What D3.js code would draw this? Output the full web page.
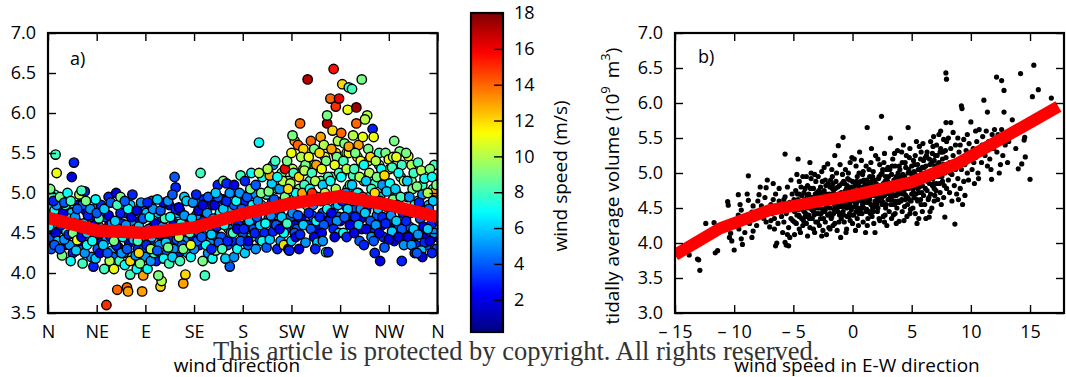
<!DOCTYPE html>
<html>
<head>
<meta charset="utf-8">
<script src="https://cdn.jsdelivr.net/npm/d3@7"></script>
<style>
    body { margin: 0; background: #fff; }
    svg { display: block; font-family: 'Open Sans', sans-serif; }
    .lbl { font-size: 18px; fill: #000; }
    .title { font-size: 19px; fill: #000; }
</style>
</head>
<body>
<div id="chart"></div>
<script>
'use strict';

// Ticks and labels
const directionTicks = [0, 45, 90, 135, 180, 225, 270, 315, 360];
const directionLabels = ['N', 'NE', 'E', 'SE', 'S', 'SW', 'W', 'NW', 'N'];
const volumeTicksA = [3.5, 4.0, 4.5, 5.0, 5.5, 6.0, 6.5, 7.0];
const volumeTicksB = [3.0, 3.5, 4.0, 4.5, 5.0, 5.5, 6.0, 6.5, 7.0];
const speedEWTicks = [-15, -10, -5, 0, 5, 10, 15];
const colorbarTicks = [2, 4, 6, 8, 10, 12, 14, 16, 18];

// Red trend lines
const trendDirection = [0, 45, 90, 135, 180, 225, 270, 315, 360];
const trendVolumeA = [4.69, 4.53, 4.5, 4.57, 4.74, 4.87, 4.96, 4.85, 4.7];
const trendSpeedEW = [-15, -11.2, -7, 0, 5, 8.8, 12.7, 17.4];
const trendVolumeB = [3.83, 4.21, 4.47, 4.68, 4.87, 5.13, 5.5, 5.95];

// a) core of the band [direction (deg), volume, wind speed]
const directionPointsCore = [
    [4,4.42,5],[9,4.6,3],[1,4.8,6],[6,4.98,7],[3,4.3,4],[8,4.68,2],
    [10,4.4,5],[14,4.55,3],[18,4.78,6],[12,4.92,4],[16,4.35,2],[19,4.6,7],
    [20,4.35,5],[25,4.52,3],[22,4.75,6],[28,4.85,2],[26,4.65,4],[23,4.25,3],
    [30,4.3,4],[33,4.4,3],[37,4.6,5],[35,4.78,2],[39,4.42,6],[32,4.85,4],
    [40,4.2,5],[45,4.45,3],[47,4.58,6],[41,4.72,3],[49,4.38,2],[46,4.82,5],
    [50,4.3,3],[54,4.42,5],[57,4.62,2],[53,4.7,4],[59,4.28,6],[56,4.95,3],
    [60,4.2,4],[65,4.32,2],[62,4.52,5],[68,4.62,3],[66,4.85,4],[69,4.25,6],
    [70,4.25,5],[75,4.38,2],[77,4.55,4],[72,4.75,3],[79,4.62,5],[76,4.85,6],
    [80,4.15,4],[83,4.3,3],[87,4.45,5],[85,4.65,2],[81,4.55,6],[89,4.8,4],
    [90,4.2,5],[94,4.4,3],[97,4.58,4],[91,4.75,6],[99,4.5,2],[96,4.9,4],
    [100,4.15,3],[103,4.35,5],[108,4.45,2],[105,4.65,4],[102,4.75,6],[109,4.55,3],
    [110,4.25,4],[114,4.4,3],[117,4.62,5],[112,4.85,2],[119,4.75,6],[116,4.3,5],
    [120,4.2,3],[124,4.5,2],[127,4.4,5],[122,4.78,4],[129,4.65,3],[126,4.95,6],
    [130,4.3,4],[134,4.45,2],[137,4.72,5],[131,4.62,3],[139,4.9,6],[135,4.55,4],
    [140,4.35,3],[145,4.5,5],[147,4.62,2],[142,4.78,6],[149,4.4,4],[144,4.92,3],
    [150,4.4,5],[154,4.55,2],[157,4.7,4],[152,4.85,3],[159,4.62,6],[156,4.45,3],
    [160,4.45,4],[164,4.68,3],[167,4.55,5],[162,4.92,2],[169,4.78,6],[166,4.35,4],
    [170,4.4,3],[174,4.62,5],[177,4.75,2],[172,4.85,4],[179,4.55,6],[176,4.95,3],
    [180,4.5,4],[184,4.62,2],[187,4.78,5],[182,4.9,3],[189,4.55,6],[186,5.0,5],
    [190,4.55,4],[194,4.65,3],[197,4.85,6],[192,4.98,5],[199,4.6,2],[196,4.42,4],
    [200,4.5,3],[204,4.68,5],[207,4.88,4],[202,4.98,7],[209,4.62,2],[206,5.05,8],
    [210,4.55,4],[214,4.75,3],[217,4.9,6],[212,5.05,8],[219,4.65,2],[216,5.25,9],
    [220,4.55,3],[224,4.7,4],[227,4.92,7],[222,5.15,9],[229,4.6,2],[226,5.3,10],
    [230,4.55,4],[234,4.68,2],[237,4.9,6],[232,5.05,9],[239,4.6,3],[236,5.3,11],
    [240,4.6,3],[244,4.72,4],[247,4.92,6],[242,5.15,8],[249,4.55,2],[246,5.35,10],
    [250,4.6,2],[254,4.75,4],[257,4.95,7],[252,5.15,9],[259,4.65,3],[256,5.45,11],
    [260,4.65,3],[264,4.8,5],[267,5.0,7],[262,5.2,9],[269,4.7,4],[266,5.5,12],
    [270,4.65,2],[274,4.85,4],[277,5.05,7],[272,5.25,9],[279,4.72,3],[276,5.5,10],
    [280,4.6,3],[284,4.82,4],[287,5.0,6],[282,5.22,8],[289,4.68,2],[286,5.45,11],
    [290,4.55,2],[294,4.78,5],[297,4.95,7],[292,5.15,9],[299,4.62,3],[296,5.4,10],
    [300,4.5,3],[304,4.72,4],[307,4.95,6],[302,5.12,8],[309,4.6,2],[306,5.35,9],
    [310,4.45,3],[314,4.65,5],[317,4.88,7],[312,5.05,8],[319,4.55,2],[316,5.3,10],
    [320,4.4,2],[324,4.6,4],[327,4.82,6],[322,5.0,8],[329,4.5,3],[326,5.2,9],
    [330,4.4,3],[334,4.58,4],[337,4.78,6],[332,4.95,7],[339,4.48,2],[336,5.15,9],
    [340,4.35,3],[344,4.52,5],[347,4.72,4],[342,4.9,7],[349,4.45,2],[346,5.1,8],
    [350,4.35,4],[354,4.5,3],[357,4.65,5],[352,4.85,6],[360,4.45,2],[356,5.05,8]
];

// a) spread and outliers [direction (deg), volume, wind speed]
const directionPoints = [
    [1,4.45,4],[3,4.55,3],[5,4.62,5],[2,4.7,6],[6,4.78,7],[8,4.85,5],[4,4.95,8],[2,5.05,9],[7,4.5,2],[9,4.4,6],[7,5.48,8],[8,5.25,11],[5,4.9,3],[3,4.65,8],[6,4.35,4],[1,4.58,7],
    [13,4.22,9],[11,4.3,4],[15,4.42,5],[17,4.52,7],[12,4.6,3],[19,4.68,6],[14,4.75,2],[16,4.85,8],[11,4.95,9],[18,5.0,7],[19,4.48,3],[13,4.65,5],[15,4.88,4],
    [22,5.2,2],[24,5.38,3],[21,4.15,7],[26,4.28,6],[28,4.4,4],[23,4.5,9],[29,4.58,3],[25,4.7,5],[27,4.8,4],[21,4.9,8],[29,4.98,10],[27,4.41,11],[24,4.62,6],
    [32,4.12,8],[34,4.25,5],[36,4.35,7],[31,4.45,2],[38,4.55,4],[33,4.62,6],[37,4.72,3],[39,4.8,5],[35,4.9,9],[34,5.02,3],[31,5.03,8],[36,4.5,6],
    [42,4.08,3],[44,4.18,6],[46,4.3,4],[41,4.4,7],[48,4.5,5],[43,4.6,2],[47,4.68,8],[45,4.75,4],[49,4.85,3],[44,4.92,7],[48,4.25,2],[42,4.55,5],
    [54,3.6,15],[52,4.05,8],[57,4.15,10],[55,4.25,4],[51,4.35,6],[58,4.45,3],[53,4.55,7],[59,4.62,5],[56,4.72,2],[52,4.8,6],[58,4.88,4],[55,4.52,9],
    [64,3.79,14],[61,4.05,11],[66,4.15,8],[68,4.25,5],[63,4.35,3],[69,4.45,7],[65,4.55,4],[62,4.65,6],[67,4.75,3],[64,4.85,8],[63,5.0,2],[67,4.95,9],[61,4.4,9],
    [73,3.82,14],[74,3.77,13],[76,3.98,8],[71,4.1,7],[78,4.2,9],[73,4.3,4],[79,4.42,6],[75,4.5,3],[72,4.6,5],[77,4.7,2],[74,4.8,7],[71,4.9,4],[78,4.98,3],[76,4.15,12],
    [87,3.77,13],[88,3.97,13],[82,4.05,7],[85,4.12,9],[81,4.22,5],[89,4.32,4],[83,4.4,8],[86,4.5,3],[84,4.58,6],[88,4.68,4],[82,4.78,2],[86,4.88,5],[84,4.25,12],
    [92,4.05,7],[95,4.15,5],[98,4.25,8],[91,4.35,3],[96,4.45,6],[93,4.55,4],[99,4.62,2],[94,4.7,7],[97,4.8,5],[92,4.88,3],[95,4.3,10],
    [104,3.83,12],[105,3.9,10],[102,3.97,9],[107,4.18,7],[101,4.28,4],[109,4.38,6],[103,4.48,3],[106,4.58,5],[108,4.68,8],[104,4.78,4],[107,4.88,2],[101,4.92,6],
    [117,5.2,4],[118,5.07,3],[112,4.12,8],[115,4.2,6],[111,4.32,9],[119,4.42,4],[114,4.52,5],[116,4.6,2],[113,4.7,7],[118,4.8,3],[111,4.9,5],[115,4.98,4],
    [125,3.87,13],[127,3.98,12],[122,4.15,8],[129,4.25,6],[124,4.35,4],[121,4.45,10],[128,4.55,3],[123,4.62,7],[126,4.72,5],[121,4.82,2],[128,4.9,6],[125,4.3,9],
    [132,4.2,7],[135,4.3,5],[138,4.4,4],[131,4.5,8],[136,4.6,3],[133,4.68,6],[139,4.78,2],[134,4.88,5],[137,4.98,3],[132,4.35,11],[139,4.52,4],
    [141,5.25,8],[145,3.97,8],[143,4.15,9],[148,4.25,5],[146,4.35,7],[142,4.45,4],[149,4.55,6],[144,4.65,3],[147,4.75,5],[143,4.85,2],[148,4.95,4],[141,4.6,6],
    [152,4.18,7],[155,4.28,9],[158,4.38,4],[151,4.48,6],[156,4.58,3],[153,4.68,5],[159,4.76,7],[154,4.85,2],[157,4.95,4],[157,5.1,3],[151,4.3,3],[155,5.0,6],
    [168,4.08,4],[164,4.18,6],[161,4.3,8],[166,4.4,3],[169,4.5,5],[163,4.6,7],[167,4.7,4],[162,4.8,6],[165,4.9,3],[168,5.0,5],[162,5.15,9],[165,5.12,3],
    [172,4.2,5],[175,4.3,7],[178,4.4,4],[171,4.5,8],[176,4.6,3],[173,4.7,6],[179,4.8,4],[174,4.9,7],[177,5.0,5],[172,5.1,2],[178,5.22,8],[175,4.55,2],
    [182,4.25,6],[185,4.35,4],[188,4.45,8],[181,4.55,3],[186,4.65,6],[183,4.75,5],[189,4.85,7],[184,4.95,4],[187,5.05,9],[182,5.15,3],[188,5.25,7],[185,4.4,2],
    [195,5.63,7],[192,4.3,5],[198,4.4,7],[191,4.5,3],[196,4.6,6],[193,4.7,4],[199,4.8,8],[194,4.9,5],[197,5.0,9],[192,5.1,4],[198,5.2,7],[195,5.25,10],
    [202,4.32,4],[205,4.42,6],[208,4.52,3],[201,4.62,7],[206,4.72,5],[203,4.82,8],[209,4.92,4],[204,5.02,9],[207,5.12,6],[205,5.22,13],[208,5.35,5],[210,5.4,8],[203,5.3,10],
    [212,4.3,3],[215,4.4,5],[218,4.5,7],[211,4.6,4],[216,4.7,6],[213,4.82,8],[219,4.95,9],[214,5.05,5],[217,5.15,10],[219,5.3,16],[212,5.2,7],[218,4.35,12],[214,4.55,2],
    [222,4.3,2],[225,4.4,6],[228,4.5,4],[221,4.62,8],[226,4.75,5],[223,4.88,9],[229,5.0,7],[224,5.12,10],[227,5.25,8],[221,5.4,9],[225,5.5,11],[228,5.65,13],[226,5.72,9],[223,4.28,3],[229,4.45,2],[222,5.05,12],
    [233,5.87,14],[231,5.6,14],[236,5.55,12],[234,5.45,10],[238,5.35,9],[232,5.2,12],[237,5.1,8],[235,4.95,6],[239,4.85,9],[231,4.72,4],[236,4.6,6],[233,4.48,3],[238,4.38,5],[235,5.0,13],[232,4.3,2],[237,5.28,10],
    [240,6.42,17],[243,5.65,14],[246,5.55,9],[241,5.45,11],[248,5.35,13],[244,5.25,8],[247,5.15,10],[242,5.05,7],[249,4.95,12],[245,4.85,5],[241,4.75,3],[248,4.65,7],[243,4.55,4],[246,4.45,2],[249,4.38,6],[244,5.0,15],[247,4.3,3],
    [258,5.87,17],[252,5.7,13],[255,5.6,10],[251,5.5,12],[257,5.4,9],[253,5.3,11],[259,5.2,8],[254,5.1,6],[256,5.0,10],[252,4.9,5],[258,4.8,7],[251,4.7,3],[255,4.6,4],[253,4.5,2],[257,4.26,8],[259,4.26,3],[258,5.97,9],[254,4.4,5],
    [264,6.55,15.5],[261,6.18,14],[266,6.08,15],[263,5.78,12],[268,5.65,10],[262,5.55,13],[267,5.45,9],[265,5.35,11],[269,5.25,8],[261,5.15,7],[266,5.05,10],[263,4.95,4],[268,4.85,6],[262,4.75,2],[267,4.65,5],[264,4.55,3],[269,4.5,6],[265,4.45,2],
    [269,6.18,16],[272,6.36,12],[277,6.04,11],[271,5.75,14],[274,5.62,9],[278,5.5,11],[273,5.4,8],[276,5.3,10],[271,5.2,7],[279,5.1,9],[275,5.0,5],[272,4.9,3],[277,4.8,6],[274,4.7,4],[279,4.6,2],[273,4.5,7],[276,4.45,3],[278,5.58,13],
    [278,6.32,8],[281,6.3,8],[285,6.07,17.5],[285,5.87,14],[282,5.72,10],[287,5.6,13],[284,5.5,9],[289,5.4,11],[283,5.3,8],[288,5.2,10],[281,5.1,6],[286,5.0,7],[282,4.9,4],[289,4.8,5],[284,4.7,3],[287,4.6,6],[283,4.5,2],[288,4.4,4],
    [290,6.42,9],[295,5.97,10],[293,5.92,10],[291,5.7,11],[296,5.55,9],[298,5.45,12],[292,5.35,7],[297,5.25,10],[294,5.15,6],[299,5.05,8],[291,4.95,5],[296,4.85,3],[293,4.75,6],[298,4.65,4],[294,4.55,2],[299,4.45,5],[292,4.35,3],
    [300,5.8,3],[301,5.7,11],[306,5.5,8],[303,5.4,10],[308,5.3,7],[304,5.2,9],[309,5.1,5],[302,5.0,12],[307,4.9,4],[305,4.8,6],[309,4.7,3],[303,4.6,5],[306,4.5,2],[301,4.4,4],[302,4.25,3],[307,4.15,2],
    [312,5.5,9],[315,5.42,11],[318,5.32,8],[311,5.22,12],[316,5.12,7],[313,5.02,6],[319,4.92,9],[314,4.82,4],[317,4.72,5],[312,4.62,3],[318,4.52,6],[315,4.42,2],[311,4.32,4],[319,5.45,10],
    [320,5.65,9],[325,5.52,9],[322,5.45,11],[327,5.35,8],[324,5.25,7],[329,5.15,10],[321,5.05,6],[326,4.95,8],[323,4.85,5],[328,4.75,3],[322,4.65,6],[327,4.55,4],[324,4.45,2],[329,4.35,5],[327,4.15,3],
    [333,5.46,11],[331,5.5,9],[336,5.35,10],[338,5.25,8],[332,5.15,6],[337,5.05,9],[334,4.95,5],[339,4.85,7],[335,4.75,4],[331,4.65,3],[338,4.55,6],[333,4.45,2],[336,4.35,5],[339,4.25,3],
    [342,5.38,8],[345,5.28,10],[348,5.18,7],[341,5.08,9],[346,4.98,5],[343,4.88,3],[349,4.78,6],[344,4.68,4],[347,4.58,2],[342,4.48,5],[348,4.38,3],[345,4.28,6],[346,4.2,2],[341,4.25,4],
    [357,5.35,8],[353,5.3,9],[355,5.2,7],[358,5.02,13],[351,5.0,10],[356,4.9,6],[352,4.8,4],[359,4.7,7],[354,4.6,3],[357,4.5,5],[353,4.4,2],[359,4.3,4],[355,4.25,3],[351,4.55,6],[359,5.1,9]
];

// b) core of the cloud [E-W wind speed, volume]
const ewPointsCore = [
    [-5.05,4.32],[-4.95,4.62],[-4.85,4.5],[-4.75,4.28],[-4.65,4.7],[-4.55,4.4],[-4.45,4.58],[-4.35,4.8],[-4.25,4.48],[-4.15,4.32],[-4.05,4.62],[-3.95,4.42],[-3.85,4.68],[-3.75,4.55],[-3.65,4.35],[-3.55,4.78],[-3.45,4.48],[-3.35,4.6],[-3.25,4.4],[-3.15,4.7],[-3.05,4.55],[-2.95,4.3],[-2.85,4.75],[-2.75,4.5],[-2.65,4.42],[-2.55,4.68],[-2.45,4.35],[-2.35,4.62],[-2.25,4.82],[-2.15,4.55],[-2.05,4.4],
    [-1.95,4.7],[-1.85,4.6],[-1.75,4.38],[-1.65,4.85],[-1.55,4.48],[-1.45,4.68],[-1.35,4.55],[-1.25,4.8],[-1.15,4.62],[-1.05,4.42],[-0.95,4.72],[-0.85,4.52],[-0.75,4.4],[-0.65,4.85],[-0.55,4.62],[-0.45,4.38],[-0.35,4.7],[-0.25,4.9],[-0.15,4.52],[-0.05,4.62],
    [0.05,4.4],[0.15,4.75],[0.25,4.58],[0.35,4.88],[0.45,4.65],[0.55,4.42],[0.65,4.8],[0.75,4.6],[0.85,4.98],[0.95,4.5],[1.05,4.7],[1.15,4.45],[1.25,4.85],[1.35,4.62],[1.45,4.95],[1.55,4.55],[1.65,4.78],[1.75,4.45],[1.85,4.9],[1.95,4.68],
    [2.05,4.82],[2.15,4.5],[2.25,4.95],[2.35,4.72],[2.45,4.6],[2.55,5.05],[2.65,4.7],[2.75,4.88],[2.85,4.55],[2.95,4.8],[3.05,4.95],[3.15,4.62],[3.25,4.82],[3.35,5.1],[3.45,4.68],[3.55,4.55],[3.65,4.92],[3.75,4.75],[3.85,4.6],[3.95,5.1],
    [4.05,4.8],[4.15,4.62],[4.25,4.98],[4.35,4.72],[4.45,5.15],[4.55,4.85],[4.65,4.65],[4.75,5.05],[4.85,4.9],[4.95,4.6],[5.05,4.95],[5.15,4.72],[5.25,5.12],[5.35,4.85],[5.45,4.62],[5.55,5.05],[5.65,4.8],[5.75,5.2],[5.85,4.72],[5.95,4.95],
    [6.05,5.08],[6.15,4.78],[6.25,5.25],[6.35,4.88],[6.45,4.65],[6.55,5.12],[6.65,4.95],[6.75,5.28],[6.85,4.85],[6.95,5.1],[7.05,4.75],[7.15,5.25],[7.25,5.02],[7.35,4.85],[7.45,5.35],[7.55,4.95],[7.65,5.3],[7.75,4.82],[7.85,5.12],[7.95,5.45],
    [-4.9,4.45],[-4.7,4.6],[-4.5,4.38],[-4.3,4.52],[-4.1,4.72],[-3.9,4.38],[-3.7,4.55],[-3.5,4.65],[-3.3,4.52],[-3.1,4.42],[-2.9,4.58],[-2.7,4.72],[-2.5,4.62],[-2.3,4.48],[-2.1,4.6],[-1.9,4.42],[-1.7,4.78],[-1.5,4.62],[-1.3,4.68],[-1.1,4.52],[-0.9,4.65],[-0.7,4.55],[-0.5,4.78],[-0.3,4.55],[-0.1,4.8],
    [0.1,4.68],[0.3,4.55],[0.5,4.82],[0.7,4.72],[0.9,4.62],[1.1,4.78],[1.3,4.58],[1.5,4.7],[1.7,4.82],[1.9,4.52],[2.1,4.62],[2.3,4.75],[2.5,4.65],[2.7,4.55],[2.9,4.9],[3.1,4.7],[3.3,4.75],[3.5,4.82],[3.7,4.95],[3.9,4.7],
    [4.1,4.75],[4.3,4.92],[4.5,4.78],[4.7,4.88],[4.9,5.0],[5.1,4.88],[5.3,4.98],[5.5,4.78],[5.7,4.88],[5.9,5.08],[6.1,5.0],[6.3,4.9],[6.5,5.2],[6.7,5.0],[6.9,5.18],[7.1,4.95],[7.3,5.15],[7.5,5.3],[7.7,5.05],[7.9,5.22]
];

// b) spread and outliers [E-W wind speed, volume]
const ewPoints = [
    [-13.8,3.83],[-13.1,3.77],[-13.0,3.76],[-12.9,3.61],[-12.4,4.28],[-11.7,4.29],[-11.6,3.86],[-11.4,3.89],[-11.1,4.18],[-10.55,4.59],[-10.5,4.54],[-10.4,4.08],[-10.3,4.14],[-10.2,4.03],[-10.0,3.9],
    [-9.65,4.69],[-9.5,4.55],[-9.4,4.47],[-9.65,4.4],[-9.2,4.33],[-9.6,4.2],[-9.4,4.06],[-8.8,4.61],[-8.9,4.7],[-8.8,4.96],[-8.4,4.53],[-8.5,4.44],[-8.3,4.34],[-8.7,4.28],[-8.4,4.17],[-9.1,4.15],
    [-8.5,4.08],[-7.9,4.69],[-8.0,4.6],[-7.7,4.53],[-7.85,4.39],[-7.4,4.65],[-7.3,4.79],[-7.2,4.9],[-7.5,4.35],[-7.3,4.3],[-7.0,4.23],[-9.3,3.98],[-7.6,4.45],[-8.1,4.25],[-7.1,4.5],[-7.8,4.8],
    [-6.9,4.55],[-6.8,4.42],[-6.7,4.62],[-6.6,4.35],[-6.5,4.7],[-6.4,4.5],[-6.3,4.28],[-6.2,4.78],[-6.1,4.45],[-6.9,4.32],[-6.6,4.2],[-6.2,4.6],[-6.5,3.96],[-6.4,4.0],[-6.0,4.38],[-6.7,4.85],
    [-5.9,4.52],[-5.8,4.3],[-5.7,4.66],[-5.7,4.01],[-5.6,3.97],[-5.6,4.42],[-5.5,4.8],[-5.4,4.22],[-5.3,4.58],[-5.2,4.35],[-5.1,4.7],[-5.9,4.15],[-5.5,4.12],[-5.2,4.9],[-5.7,5.27],[-5.4,3.96],[-5.3,4.08],[-5.8,4.62],[-5.0,4.47],
    [-4.9,4.3],[-4.8,4.55],[-4.8,4.75],[-4.7,4.4],[-4.6,5.2],[-4.6,4.62],[-4.5,4.2],[-4.5,4.88],[-4.4,4.5],[-4.3,4.35],[-4.3,4.68],[-4.2,4.25],[-4.2,4.95],[-4.1,4.45],[-4.1,4.58],[-4.0,4.78],[-4.9,4.12],[-4.7,4.98],[-4.4,4.15],[-4.6,4.48],[-4.0,4.38],[-4.5,4.7],
    [-3.9,4.6],[-3.9,4.28],[-3.8,4.5],[-3.8,4.82],[-3.7,4.4],[-3.7,4.7],[-3.6,5.15],[-3.6,4.22],[-3.5,4.55],[-3.5,4.92],[-3.4,4.35],[-3.4,4.65],[-3.3,4.45],[-3.3,4.78],[-3.2,4.15],[-3.2,4.58],[-3.1,4.3],[-3.1,4.88],[-3.0,4.5],[-3.0,4.72],[-3.8,4.1],[-3.5,5.0],[-3.2,4.98],[-3.9,4.95],[-3.3,4.2],
    [-2.9,4.42],[-2.9,4.68],[-2.8,4.55],[-2.8,4.25],[-2.7,4.8],[-2.7,4.35],[-2.6,4.62],[-2.6,5.02],[-2.5,4.48],[-2.5,4.18],[-2.4,4.75],[-2.4,4.58],[-2.3,4.3],[-2.3,4.9],[-2.2,4.52],[-2.2,4.7],[-2.1,4.4],[-2.1,5.13],[-2.0,4.62],[-2.0,4.22],[-2.9,4.95],[-2.6,4.1],[-2.4,5.08],[-2.2,4.12],[-2.05,4.85],[-2.75,4.65],[-2.35,4.45],[-2.55,4.88],
    [-1.9,4.5],[-1.9,4.8],[-1.8,4.35],[-1.8,4.65],[-1.7,4.58],[-1.7,4.95],[-1.6,4.42],[-1.6,4.72],[-1.5,5.25],[-1.5,4.28],[-1.4,4.6],[-1.4,4.88],[-1.3,4.5],[-1.3,4.18],[-1.2,5.39],[-1.2,4.7],[-1.1,4.4],[-1.1,4.82],[-1.0,4.08],[-1.0,4.62],[-1.9,4.2],[-1.75,5.05],[-1.55,4.55],[-1.35,5.0],[-1.15,4.3],[-1.05,5.12],[-1.85,4.9],[-1.45,4.78],[-1.25,4.45],[-1.65,4.25],
    [-0.9,4.55],[-0.9,4.85],[-0.8,5.51],[-0.8,4.45],[-0.7,4.68],[-0.7,4.3],[-0.6,4.75],[-0.6,5.05],[-0.5,4.5],[-0.5,4.2],[-0.4,4.62],[-0.4,4.92],[-0.3,4.38],[-0.3,4.78],[-0.2,4.58],[-0.2,5.15],[-0.1,4.48],[-0.1,4.7],[0.0,4.28],[0.0,4.88],[-0.95,4.35],[-0.85,4.98],[-0.65,4.58],[-0.55,4.15],[-0.45,4.82],[-0.35,5.0],[-0.25,4.42],[-0.15,4.65],[-0.05,5.22],[-0.75,4.88],[-0.5,4.68],[-0.2,4.32],
    [0.1,4.6],[0.1,4.4],[0.2,4.82],[0.2,4.52],[0.3,4.7],[0.3,5.1],[0.4,4.35],[0.4,4.95],[0.5,4.62],[0.5,4.25],[0.6,4.78],[0.6,5.3],[0.7,4.5],[0.7,4.88],[0.8,4.42],[0.8,4.68],[0.9,5.02],[0.9,4.3],[1.0,4.58],[1.0,4.75],[0.15,5.2],[0.25,4.18],[0.35,4.58],[0.45,4.75],[0.55,5.0],[0.65,4.45],[0.75,5.18],[0.85,4.55],[0.95,4.9],[0.05,4.72],[0.45,4.5],[0.7,4.65],[0.85,4.8],[0.3,4.45],
    [1.1,4.65],[1.1,4.15],[1.2,4.48],[1.2,4.9],[1.24,5.65],[1.3,4.72],[1.3,4.35],[1.4,5.05],[1.4,4.58],[1.5,4.82],[1.5,4.42],[1.6,5.35],[1.6,4.68],[1.7,4.5],[1.7,4.95],[1.8,4.28],[1.8,4.75],[1.9,4.6],[1.9,4.15],[2.0,4.85],[1.15,5.1],[1.25,4.25],[1.35,4.8],[1.45,4.62],[1.55,5.15],[1.65,4.38],[1.75,5.02],[1.85,4.55],[1.95,5.25],[1.05,4.85],[1.4,4.45],[1.6,4.88],[1.8,4.68],[1.2,4.7],
    [2.1,4.7],[2.1,4.45],[2.2,4.92],[2.2,4.6],[2.3,4.32],[2.3,5.12],[2.45,5.81],[2.4,4.78],[2.5,4.55],[2.5,5.0],[2.6,4.38],[2.6,4.85],[2.7,4.68],[2.7,5.28],[2.8,4.5],[2.8,4.95],[2.9,4.25],[2.9,4.72],[3.0,4.62],[3.0,5.08],[2.15,5.2],[2.25,4.35],[2.35,4.65],[2.55,4.8],[2.65,5.15],[2.75,4.4],[2.85,5.05],[2.95,4.88],[2.05,4.55],[2.4,4.98],[2.6,4.58],[2.8,4.75],[2.3,4.82],[2.7,4.3],
    [3.1,4.8],[3.1,4.45],[3.2,5.5],[3.2,4.65],[3.3,4.35],[3.3,4.98],[3.4,4.75],[3.4,5.2],[3.5,4.55],[3.5,4.9],[3.6,4.42],[3.6,5.1],[3.7,4.68],[3.7,4.28],[3.8,4.85],[3.8,5.32],[3.9,4.58],[3.94,4.31],[4.0,4.72],[4.0,5.05],[3.15,5.05],[3.25,4.55],[3.35,4.85],[3.45,4.4],[3.55,5.28],[3.65,4.78],[3.75,4.5],[3.85,5.0],[3.95,4.95],[3.3,4.62],[3.6,4.6],[3.9,4.82],
    [4.1,4.6],[4.1,4.88],[4.2,4.45],[4.2,5.15],[4.3,4.75],[4.3,5.4],[4.4,4.52],[4.4,4.95],[4.5,4.68],[4.5,5.08],[4.6,4.38],[4.6,4.82],[4.7,5.65],[4.7,5.0],[4.8,4.62],[4.8,5.22],[4.9,4.48],[4.9,4.9],[5.0,4.7],[5.0,5.1],[4.15,5.3],[4.25,4.7],[4.35,4.32],[4.55,5.25],[4.65,4.55],[4.75,4.78],[4.85,5.35],[4.95,4.85],[4.45,4.62],[4.85,4.42],
    [5.1,4.78],[5.1,4.5],[5.2,5.02],[5.2,4.65],[5.3,5.25],[5.3,4.42],[5.4,4.88],[5.4,5.45],[5.5,4.6],[5.5,5.12],[5.6,4.72],[5.6,4.35],[5.7,5.05],[5.7,4.95],[5.8,4.55],[5.8,5.3],[5.9,4.82],[5.9,4.45],[6.0,5.18],[6.0,4.68],[5.15,5.18],[5.35,4.7],[5.45,4.28],[5.55,4.9],[5.65,5.38],[5.75,4.62],[5.85,5.0],[5.95,5.42],
    [6.1,4.9],[6.1,4.55],[6.2,5.1],[6.2,4.35],[6.3,4.75],[6.3,5.3],[6.4,4.62],[6.48,4.37],[6.5,5.0],[6.5,4.85],[6.6,5.45],[6.6,4.7],[6.7,4.5],[6.7,5.15],[6.8,4.92],[6.8,5.38],[6.9,4.78],[6.9,4.6],[7.0,5.05],[7.0,5.25],[6.15,5.22],[6.35,4.98],[6.55,4.45],[6.75,4.82],[6.85,5.52],[6.95,4.68],
    [7.1,4.85],[7.1,5.4],[7.2,4.62],[7.2,5.12],[7.3,4.95],[7.3,5.55],[7.4,4.72],[7.4,5.3],[7.5,4.55],[7.5,5.05],[7.6,5.2],[7.6,4.88],[7.7,5.48],[7.7,4.65],[7.8,4.37],[7.8,5.0],[7.89,6.43],[7.94,6.34],[7.9,5.72],[7.95,4.78],[7.15,5.02],[7.45,5.6],[7.65,5.12],[7.85,5.32],
    [8.1,4.9],[8.1,5.5],[8.2,5.15],[8.2,4.72],[8.3,5.35],[8.3,5.72],[8.4,4.98],[8.4,4.6],[8.5,5.25],[8.5,5.58],[8.6,4.82],[8.65,4.27],[8.7,5.4],[8.7,5.05],[8.8,4.7],[8.8,5.18],[8.9,5.5],[8.9,4.92],[9.0,5.3],[8.25,5.0],[8.55,5.1],[8.95,4.62],
    [9.1,4.78],[9.1,5.4],[9.2,5.96],[9.2,5.05],[9.25,5.92],[9.3,4.55],[9.3,5.22],[9.4,4.88],[9.4,5.48],[9.5,5.12],[9.5,4.68],[9.6,5.32],[9.7,5.0],[9.7,5.55],[9.8,4.9],[9.9,5.2],[10.0,5.73],[9.85,5.42],
    [10.1,5.05],[10.2,5.35],[10.3,4.85],[10.4,5.6],[10.4,5.22],[10.5,5.45],[10.6,5.0],[10.7,5.62],[10.8,5.3],[10.9,5.15],[11.0,5.52],[10.25,5.15],[10.65,4.92],[10.95,5.4],
    [11.1,6.04],[11.2,5.25],[11.3,5.6],[11.4,5.87],[11.4,5.1],[11.5,5.45],[11.6,5.2],[11.75,4.91],[11.8,5.55],[11.9,5.35],[12.0,5.62],[11.7,5.05],
    [12.17,6.37],[12.6,6.32],[12.8,6.18],[12.8,5.87],[12.2,5.3],[12.3,5.55],[12.5,5.12],[12.6,5.62],[12.9,5.4],[12.4,5.0],[12.7,5.25],
    [13.5,5.76],[13.2,5.45],[13.8,5.35],[14.0,5.06],[14.2,6.42],[14.3,5.13],[14.5,5.47],[14.55,5.51],[14.6,5.23],[15.0,4.91],[15.2,6.09],[15.32,6.54],[15.7,6.19],[16.8,6.07],[13.1,5.15]
];

// Jet colormap
function jet(t) {
    const c = v => Math.max(0, Math.min(1, v));
    const r = c(Math.min(4 * t - 1.5, -4 * t + 4.5));
    const g = c(Math.min(4 * t - 0.5, -4 * t + 3.5));
    const b = c(Math.min(4 * t + 0.5, -4 * t + 2.5));
    return d3.rgb(r * 255, g * 255, b * 255).toString();
}

// Svg
const svg = d3.select('#chart')
    .append('svg')
    .attr('width', 1066)
    .attr('height', 377);

const speedNorm = d3.scaleLinear().domain([0.2, 18]).range([0, 1]).clamp(true);

// Build one panel: scales, clip and groups
function buildPanel(cfg) {
    const x = d3.scaleLinear().domain(cfg.xDomain).range([cfg.left, cfg.right]);
    const y = d3.scaleLinear().domain(cfg.yDomain).range([cfg.bottom, cfg.top]);

    svg.append('clipPath')
        .attr('id', cfg.id)
        .append('rect')
        .attr('x', cfg.left).attr('y', cfg.top)
        .attr('width', cfg.right - cfg.left)
        .attr('height', cfg.bottom - cfg.top);

    const g = svg.append('g');
    const plot = g.append('g').attr('clip-path', `url(#${cfg.id})`);

    return {x, y, g, plot};
}

// Frame with inward ticks on every side
function drawFrame(p, cfg) {
    const axes = [
        {axis: d3.axisBottom(p.x), tr: `translate(0,${cfg.bottom})`, ticks: cfg.xTicks, fmt: cfg.xFormat},
        {axis: d3.axisTop(p.x), tr: `translate(0,${cfg.top})`, ticks: cfg.xTicks, fmt: () => ''},
        {axis: d3.axisLeft(p.y), tr: `translate(${cfg.left},0)`, ticks: cfg.yTicks, fmt: d3.format('.1f')},
        {axis: d3.axisRight(p.y), tr: `translate(${cfg.right},0)`, ticks: cfg.yTicks, fmt: () => ''}
    ];
    axes.forEach(a => {
        const ag = p.g.append('g')
            .attr('transform', a.tr)
            .call(a.axis.tickValues(a.ticks).tickFormat(a.fmt)
                .tickSizeInner(-8).tickSizeOuter(0).tickPadding(12));
        ag.select('.domain').remove();
        ag.selectAll('line').attr('stroke', '#000').attr('stroke-width', 1.4);
        ag.selectAll('text')
            .attr('class', 'lbl')
            .style('font-family', "'Open Sans', sans-serif");
    });

    p.g.append('rect')
        .attr('x', cfg.left).attr('y', cfg.top)
        .attr('width', cfg.right - cfg.left)
        .attr('height', cfg.bottom - cfg.top)
        .attr('fill', 'none')
        .attr('stroke', '#000')
        .attr('stroke-width', 2.2);
}

// Panel a
const cfgA = {
    id: 'clipA', left: 48, right: 437.5, top: 33, bottom: 313,
    xDomain: [0, 360], yDomain: [3.5, 7.0],
    xTicks: directionTicks, yTicks: volumeTicksA,
    xFormat: (d, i) => directionLabels[i]
};
const pa = buildPanel(cfgA);

pa.plot.selectAll('.ptA')
    .data(directionPointsCore.concat(directionPoints))
    .join('circle')
    .attr('class', 'ptA')
    .attr('cx', d => pa.x(d[0]))
    .attr('cy', d => pa.y(d[1]))
    .attr('r', 4.7)
    .attr('fill', d => jet(speedNorm(d[2])))
    .attr('stroke', '#000')
    .attr('stroke-width', 1.4);

pa.plot.append('path')
    .datum(trendDirection.map((d, i) => [d, trendVolumeA[i]]))
    .attr('d', d3.line().x(d => pa.x(d[0])).y(d => pa.y(d[1])))
    .attr('fill', 'none')
    .attr('stroke', '#ff0000')
    .attr('stroke-width', 12.5)
    .attr('stroke-linejoin', 'round');

drawFrame(pa, cfgA);

pa.g.append('text').attr('class', 'lbl').attr('x', 70).attr('y', 65).text('a)');
svg.append('text').attr('class', 'title')
    .attr('x', 237).attr('y', 372)
    .attr('text-anchor', 'middle')
    .text('wind direction');

// Colorbar
const cb = {left: 471, right: 503, top: 13, bottom: 332};
const cbY = d3.scaleLinear().domain([0.2, 18]).range([cb.bottom, cb.top]);
const grad = svg.append('defs').append('linearGradient')
    .attr('id', 'jetGrad')
    .attr('x1', 0).attr('y1', 1).attr('x2', 0).attr('y2', 0);
d3.range(0, 1.0001, 0.02).forEach(t => {
    grad.append('stop').attr('offset', t).attr('stop-color', jet(t));
});
svg.append('rect')
    .attr('x', cb.left).attr('y', cb.top)
    .attr('width', cb.right - cb.left).attr('height', cb.bottom - cb.top)
    .attr('fill', 'url(#jetGrad)')
    .attr('stroke', '#000').attr('stroke-width', 2.2);
const cbAxis = svg.append('g')
    .attr('transform', `translate(${cb.right},0)`)
    .call(d3.axisRight(cbY).tickValues(colorbarTicks).tickFormat(d3.format('d'))
        .tickSizeInner(-9).tickSizeOuter(0).tickPadding(11));
cbAxis.select('.domain').remove();
cbAxis.selectAll('line').attr('stroke', '#000').attr('stroke-width', 1.4);
cbAxis.selectAll('text').attr('class', 'lbl').style('font-family', "'Open Sans', sans-serif");
svg.append('text').attr('class', 'title')
    .attr('transform', 'translate(567,176) rotate(-90)')
    .attr('text-anchor', 'middle')
    .text('wind speed (m/s)');

// Panel b
const cfgB = {
    id: 'clipB', left: 675, right: 1064, top: 33, bottom: 313,
    xDomain: [-15, 17.87], yDomain: [3.0, 7.0],
    xTicks: speedEWTicks, yTicks: volumeTicksB,
    xFormat: d => d < 0 ? '\u2013 ' + Math.abs(d) : String(d)
};
const pb = buildPanel(cfgB);

pb.plot.selectAll('.ptB')
    .data(ewPointsCore.concat(ewPoints))
    .join('circle')
    .attr('class', 'ptB')
    .attr('cx', d => pb.x(d[0]))
    .attr('cy', d => pb.y(d[1]))
    .attr('r', 2.6)
    .attr('fill', '#000');

pb.plot.append('path')
    .datum(trendSpeedEW.map((d, i) => [d, trendVolumeB[i]]))
    .attr('d', d3.line().x(d => pb.x(d[0])).y(d => pb.y(d[1])))
    .attr('fill', 'none')
    .attr('stroke', '#ff0000')
    .attr('stroke-width', 12)
    .attr('stroke-linejoin', 'round');

drawFrame(pb, cfgB);

pb.g.append('text').attr('class', 'lbl').attr('x', 698).attr('y', 63).text('b)');
svg.append('text').attr('class', 'title')
    .attr('x', 857).attr('y', 372)
    .attr('text-anchor', 'middle')
    .text('wind speed in E-W direction');

const yLab = svg.append('text').attr('class', 'title')
    .attr('transform', 'translate(619,186) rotate(-90)')
    .attr('text-anchor', 'middle');
yLab.append('tspan').text('tidally average volume (10');
yLab.append('tspan').attr('baseline-shift', 'super').style('font-size', '13px').text('9');
yLab.append('tspan').text('\u2009 m');
yLab.append('tspan').attr('baseline-shift', 'super').style('font-size', '13px').text('3');
yLab.append('tspan').text(')');

// Watermark
svg.append('text')
    .attr('x', 213).attr('y', 360)
    .style('font-family', "'Liberation Serif', 'Times New Roman', serif")
    .style('font-size', '26.5px')
    .attr('fill', '#333')
    .text('This article is protected by copyright. All rights reserved.');
</script>
</body>
</html>
